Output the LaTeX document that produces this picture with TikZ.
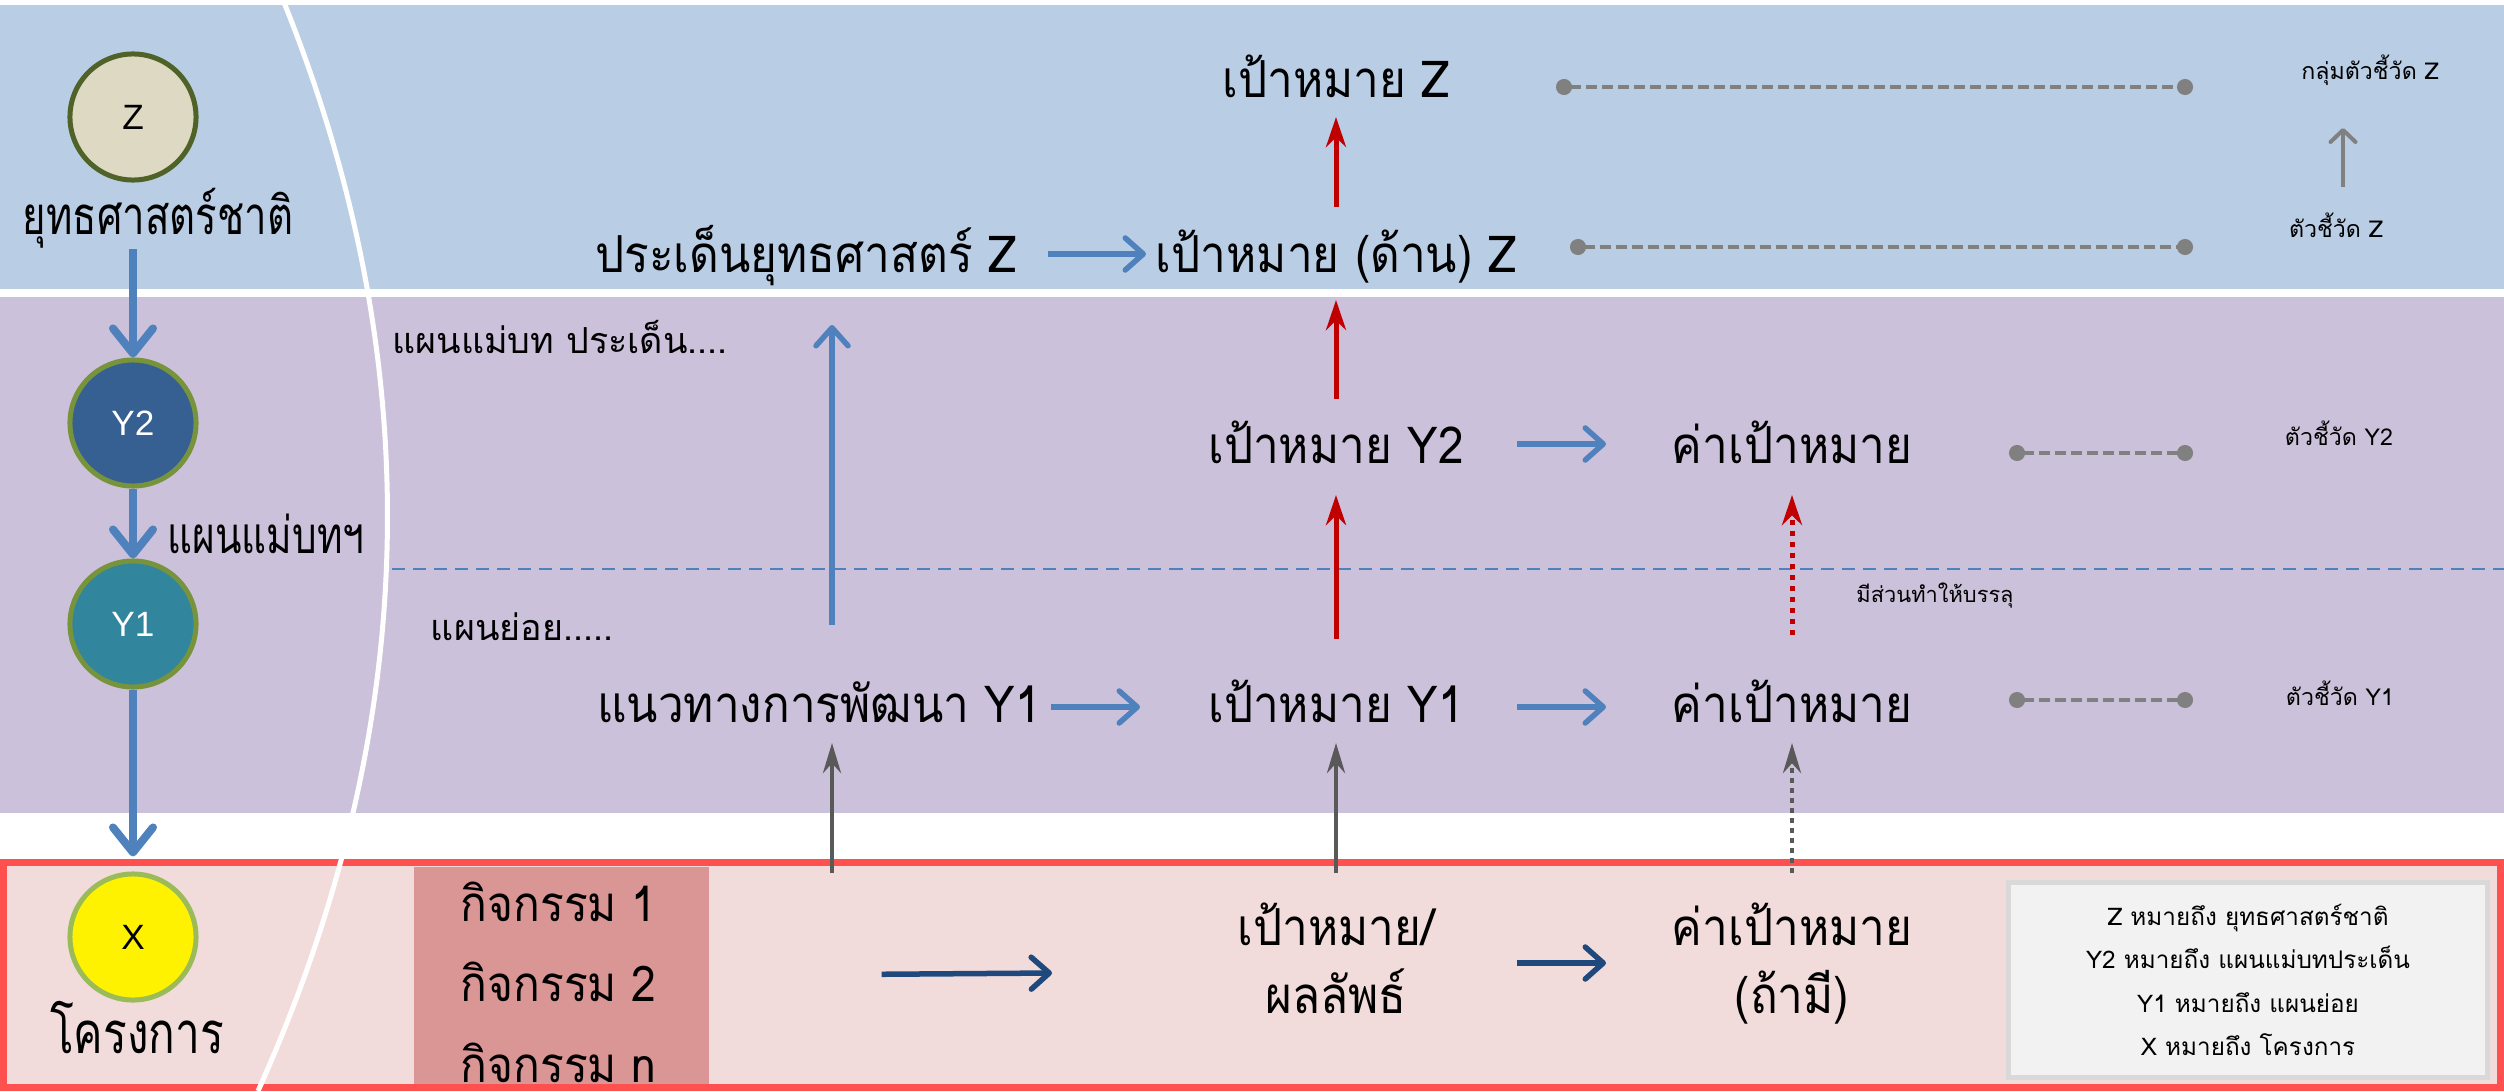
\documentclass[tikz,border=0pt]{standalone}
\usepackage{fontspec}
\setmainfont[Script=Thai]{Loma}
\newfontfamily\tagfont[Script=Thai,FakeStretch=0.9]{Loma}
\newfontfamily\sidefont[Script=Thai,FakeStretch=0.76]{Loma}
\newfontfamily\latinfont{Liberation Sans}
\usetikzlibrary{arrows.meta,positioning,calc}

\definecolor{bandblue}{HTML}{B9CDE5}
\definecolor{bandpurple}{HTML}{CCC1DA}
\definecolor{bandpink}{HTML}{F2DCDB}
\definecolor{borderred}{HTML}{FF5050}
\definecolor{actfill}{HTML}{DA9694}
\definecolor{arrowblue}{HTML}{4F81BD}
\definecolor{darkblue}{HTML}{1F497D}
\definecolor{goalred}{HTML}{C00000}
\definecolor{feedgray}{HTML}{595959}
\definecolor{midgray}{HTML}{808080}
\definecolor{zfill}{HTML}{DDD9C3}
\definecolor{zline}{HTML}{4F6228}
\definecolor{ytwofill}{HTML}{366092}
\definecolor{yonefill}{HTML}{31859C}
\definecolor{yline}{HTML}{77933C}
\definecolor{xline}{HTML}{9BBB59}
\definecolor{legendfill}{HTML}{F2F2F2}
\definecolor{legendline}{HTML}{D9D9D9}

\begin{document}
\begin{tikzpicture}[x=0.01cm,y=-0.01cm,
    tier/.style={circle,minimum size=1.26cm,inner sep=0pt,line width=0.05cm,
      font=\latinfont\fontsize{10}{12}\selectfont},
    tag/.style={inner sep=0pt,align=center,font=\tagfont\fontsize{14.5}{19.3}\selectfont},
    side/.style={inner sep=0pt,font=\sidefont\fontsize{15}{18}\selectfont},
    note/.style={inner sep=0pt,font=\fontsize{10.2}{13}\selectfont},
    kpi/.style={inner sep=0pt,font=\fontsize{6.6}{9}\selectfont},
    legendbox/.style={draw=legendline,fill=legendfill,line width=0.05cm,
      minimum width=4.78cm,minimum height=1.94cm,align=center,
      font=\fontsize{6.9}{12.3}\selectfont},
    tierarrow/.style={arrowblue,line width=0.08cm,
      -{Straight Barb[length=0.25cm,width=0.4cm,round]}},
    flowarrow/.style={arrowblue,line width=0.055cm,
      -{Straight Barb[length=0.18cm,width=0.32cm,round]}},
    pusharrow/.style={darkblue,line width=0.055cm,
      -{Straight Barb[length=0.18cm,width=0.32cm,round]}},
    liftarrow/.style={goalred,line width=0.05cm,-{Stealth[length=0.3cm,width=0.2cm]}},
    feedarrow/.style={feedgray,line width=0.045cm,-{Stealth[length=0.3cm,width=0.18cm]}},
    kpiline/.style={midgray,line width=0.045cm,dash pattern=on 0.11cm off 0.05cm,
      {Circle[length=0.16cm]}-{Circle[length=0.16cm]}},
  ]
  \useasboundingbox (0,0) rectangle (2504,1091);

  % bands
  \fill[bandblue] (0,5) rectangle (2504,289);
  \fill[bandpurple] (0,297) rectangle (2504,813);
  \fill[bandpink] (0,860) rectangle (2504,1091);
  \node[fill=actfill,minimum width=2.95cm,minimum height=2.21cm,inner sep=0pt,
    anchor=north west] (actbox) at (413,866) {};
  \draw[borderred,line width=0.07cm] (3.5,862) rectangle (2500.5,1087.5);
  \draw[white,line width=0.05cm] (283,0) .. controls (430,363) and (422,727) .. (258,1091);
  \draw[arrowblue,line width=0.02cm,dash pattern=on 0.13cm off 0.08cm] (392,569) -- (2504,569);

  % levels on the left
  \node[tier,fill=zfill,draw=zline] (zc) at (133,117) {Z};
  \node[side,anchor=base] (zlabel) at (158,235) {ยุทธศาสตร์ชาติ};
  \node[tier,fill=ytwofill,draw=yline,text=white] (y2c) at (133,423) {Y2};
  \node[tier,fill=yonefill,draw=yline,text=white] (y1c) at (133,624) {Y1};
  \node[tier,fill=yellow,draw=xline] (xc) at (133,937) {X};
  \node[side,font=\sidefont\fontsize{14.5}{16}\selectfont,anchor=base] (planlabel) at (266,553) {แผนแม่บทฯ};
  \node[side,font=\sidefont\fontsize{16.5}{18}\selectfont,anchor=base] (xlabel) at (137,1053) {โครงการ};

  \draw[tierarrow] (y2c.north |- zlabel.south) -- (y2c.north);
  \draw[tierarrow] (y2c) -- (y1c);
  \draw[tierarrow,shorten >=0.15cm] (y1c) -- (xc);

  % goals
  \node[tag,anchor=base] (goalz) at (1336,98) {เป้าหมาย Z};
  \node[tag,anchor=base] (issuez) at (806,272) {ประเด็นยุทธศาสตร์ Z};
  \node[tag,anchor=base] (goalsidez) at (1336,272) {เป้าหมาย (ด้าน) Z};
  \node[note,anchor=base] (planissue) at (560,353) {แผนแม่บท ประเด็น....};
  \node[tag,anchor=base] (goaly2) at (1336,463) {เป้าหมาย Y2};
  \node[tag,anchor=base] (targety2) at (1792,463) {ค่าเป้าหมาย};
  \node[note,anchor=base] (subplan) at (522,640) {แผนย่อย.....};
  \node[kpi,font=\fontsize{6.2}{8}\selectfont,anchor=base] (contrib) at (1935,602) {มีส่วนทำให้บรรลุ};
  \node[tag,anchor=base] (guide) at (819,722) {แนวทางการพัฒนา Y1};
  \node[tag,anchor=base] (goaly1) at (1336,722) {เป้าหมาย Y1};
  \node[tag,anchor=base] (targety1) at (1792,722) {ค่าเป้าหมาย};
  \node[tag,anchor=base] (goalx) at (1336,1013) {เป้าหมาย/\\ผลลัพธ์};
  \node[tag,anchor=base] (targetx) at (1792,1013) {ค่าเป้าหมาย\\(ถ้ามี)};
  \node[tag,font=\tagfont\fontsize{14}{22.8}\selectfont,align=left,anchor=base west] (acts) at (460,1082)
    {กิจกรรม 1\\กิจกรรม 2\\กิจกรรม n};

  \coordinate (guidefoot) at (832,873);
  \coordinate (planup) at (832,325);

  \draw[flowarrow] ($(issuez.base)+(242,-18)$) -- ($(goalsidez.base)+(-190,-18)$);
  \draw[flowarrow] ($(goaly2.base)+(181,-19)$) -- ($(targety2.base)+(-186,-19)$);
  \draw[flowarrow] ($(guide.base)+(232,-15)$) -- ($(goaly1.base)+(-196,-15)$);
  \draw[flowarrow] ($(goaly1.base)+(181,-15)$) -- ($(targety1.base)+(-186,-15)$);
  \draw[flowarrow] ($(guidefoot |- guide.base)+(0,-97)$) -- (planup);
  \draw[pusharrow] ($(actbox.east)+(172,-3)$) -- ($(goalx.base)+(-284,-40)$);
  \draw[pusharrow] ($(goalx.base)+(181,-50)$) -- ($(targetx.base)+(-186,-50)$);

  \draw[liftarrow] ($(goalsidez.base)+(0,-65)$) -- ($(goalz.base)+(0,19)$);
  \draw[liftarrow] ($(goaly2.base)+(0,-64)$) -- ($(goalsidez.base)+(0,28)$);
  \draw[liftarrow] ($(goaly1.base)+(0,-83)$) -- ($(goaly2.base)+(0,32)$);
  \draw[liftarrow,dash pattern=on 0.05cm off 0.06cm] ($(targety1.base)+(0,-87)$) -- ($(targety2.base)+(0,32)$);

  \draw[feedarrow] (guidefoot) -- ($(guidefoot |- guide.base)+(0,21)$);
  \draw[feedarrow] ($(goalx.base)+(0,-140)$) -- ($(goaly1.base)+(0,21)$);
  \draw[feedarrow,dash pattern=on 0.05cm off 0.05cm] ($(targetx.base)+(0,-140)$) -- ($(targety1.base)+(0,21)$);

  % indicators
  \node[kpi,anchor=base] (kpigroup) at (2370,80) {กลุ่มตัวชี้วัด Z};
  \node[kpi,anchor=base] (kpiz) at (2336,237) {ตัวชี้วัด Z};
  \node[kpi,anchor=base] (kpiy2) at (2339,445) {ตัวชี้วัด Y2};
  \node[kpi,anchor=base] (kpiy1) at (2340,705) {ตัวชี้วัด Y1};
  \draw[midgray,line width=0.04cm,-{Straight Barb[length=0.12cm,width=0.25cm,round]}]
    ($(kpiz.base)+(7,-50)$) -- ($(kpigroup.base)+(-27,48)$);

  \coordinate (zgoalfrom) at (1556,87);
  \coordinate (zgoalto) at (2193,87);
  \coordinate (zsidefrom) at (1570,247);
  \coordinate (zsideto) at (2193,247);
  \coordinate (ytwofrom) at (2009,453);
  \coordinate (ytwoto) at (2193,453);
  \coordinate (yonefrom) at (2009,700);
  \coordinate (yoneto) at (2193,700);
  \draw[kpiline] (zgoalfrom) -- (zgoalto);
  \draw[kpiline] (zsidefrom) -- (zsideto);
  \draw[kpiline] (ytwofrom) -- (ytwoto);
  \draw[kpiline] (yonefrom) -- (yoneto);

  \node[legendbox] (legend) at (2248,980)
    {Z หมายถึง ยุทธศาสตร์ชาติ\\Y2 หมายถึง แผนแม่บทประเด็น\\Y1 หมายถึง แผนย่อย\\X หมายถึง โครงการ};
\end{tikzpicture}
\end{document}
